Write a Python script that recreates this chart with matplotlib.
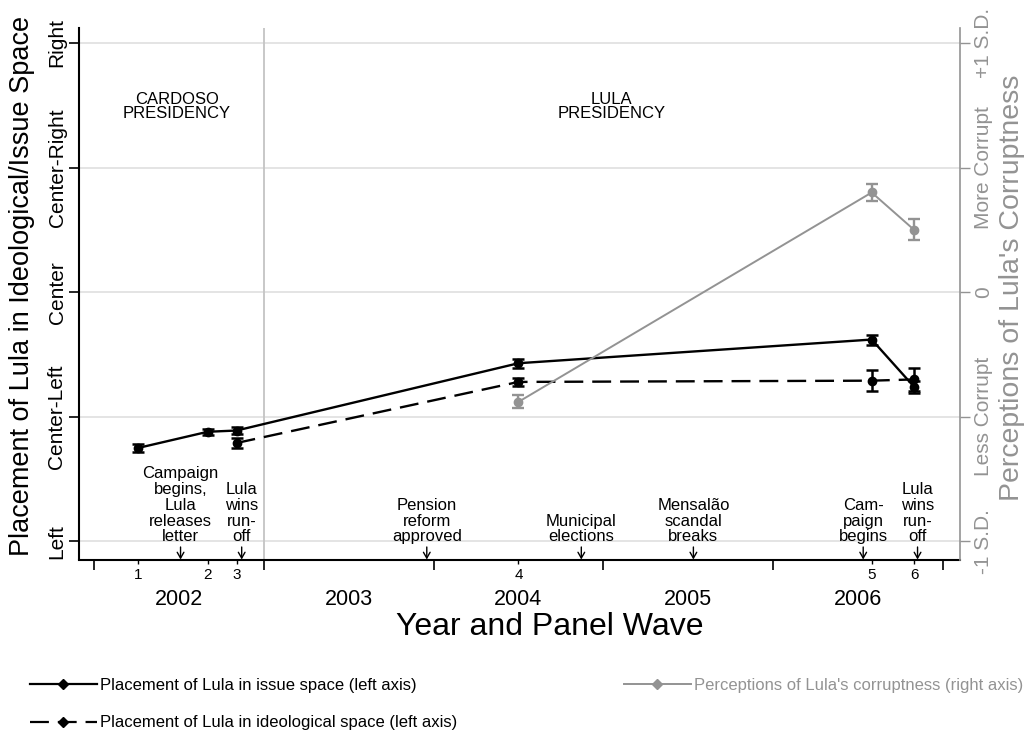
import matplotlib
matplotlib.use("Agg")
import matplotlib.pyplot as plt
from matplotlib.lines import Line2D
from matplotlib.transforms import blended_transform_factory

plt.rcParams['font.family'] = ['Liberation Sans', 'DejaVu Sans']

# panel waves, placed on a time axis in years
waveLabels = ['1', '2', '3', '4', '5', '6']
wavePos = [2002.26, 2002.67, 2002.84, 2004.50, 2006.58, 2006.83]
years = [2002, 2003, 2004, 2005, 2006]

# placement of Lula, left axis (0 = Left ... 4 = Right)
leftLabels = ['Left', 'Center-Left', 'Center', 'Center-Right', 'Right']
issue = [0.75, 0.88, 0.89, 1.43, 1.62, 1.24]
issueErr = [0.03, 0.025, 0.03, 0.035, 0.04, 0.045]
ideoPos = wavePos[2:]
ideo = [0.79, 1.28, 1.29, 1.30]
ideoErr = [0.04, 0.035, 0.085, 0.09]

# perceived corruptness, right axis (standard deviations)
rightTicks = [-1, -0.5, 0, 0.5, 1]
rightLabels = ['-1 S.D.', 'Less Corrupt', '0', 'More Corrupt', '+1 S.D.']
corrPos = wavePos[3:]
corr = [-0.44, 0.40, 0.25]
corrErr = [0.026, 0.036, 0.042]

# events marked by arrows on the time axis
eventPos = [2002.51, 2002.87, 2003.96, 2004.87, 2005.53, 2006.53, 2006.85]
eventText = ['Campaign\nbegins,\nLula\nreleases\nletter',
             'Lula\nwins\nrun-\noff',
             'Pension\nreform\napproved',
             'Municipal\nelections',
             'Mensalão\nscandal\nbreaks',
             'Cam-\npaign\nbegins',
             'Lula\nwins\nrun-\noff']

GRAY = '#939393'

fig = plt.figure(figsize=(10.27, 7.33), dpi=100)
ax = fig.add_axes([79 / 1027, 1 - 559.5 / 733, 881 / 1027, 531.5 / 733])
ax.set_xlim(2001.912, 2007.10)
ylo, yhi = -0.145, 4.12
ax.set_ylim(ylo, yhi)

ax2 = ax.twinx()
ax2.set_ylim((ylo - 2) / 2, (yhi - 2) / 2)

# grid and the start of Lula's term
ax.set_yticks(range(len(leftLabels)))
ax.set_yticklabels(leftLabels)
ax.grid(axis='y', color='#e2e2e2', lw=1.3)
ax.set_axisbelow(True)
ax.axvline(2003.0, color='#c4c4c4', lw=1.3, zorder=1)

# series
ax.errorbar(wavePos, issue, yerr=issueErr, fmt='-o', color='black', lw=1.7,
            ms=6, capsize=4.3, capthick=1.8, elinewidth=1.8, zorder=4)
ax.errorbar(ideoPos, ideo, yerr=ideoErr, fmt='o', color='black',
            ms=6, capsize=4.3, capthick=1.8, elinewidth=1.8, zorder=4)
ax.plot(ideoPos, ideo, '--', color='black', lw=1.7, dashes=(8, 3.8), zorder=4)
ax2.errorbar(corrPos, corr, yerr=corrErr, fmt='-o', color=GRAY, lw=1.4,
             ms=6, capsize=4.3, capthick=1.7, elinewidth=1.7, zorder=3)

# spines and ticks
for s in ['top', 'right']:
    ax.spines[s].set_visible(False)
for s in ['top', 'left', 'bottom']:
    ax2.spines[s].set_visible(False)
ax.spines['left'].set_linewidth(1.5)
ax.spines['bottom'].set_linewidth(1.5)
ax2.spines['right'].set_color(GRAY)
ax2.spines['right'].set_linewidth(1.2)

ax.tick_params(axis='y', length=7, width=1.2, labelsize=15, pad=2)
for lab in ax.get_yticklabels():
    lab.set_rotation(90)
    lab.set_va('center')

ax2.set_yticks(rightTicks)
ax2.set_yticklabels(rightLabels)
ax2.tick_params(axis='y', length=7, width=1.0, colors=GRAY, labelsize=15,
                pad=3)
for lab in ax2.get_yticklabels():
    lab.set_rotation(90)
    lab.set_va('center')

ax.set_xticks(years + [years[-1] + 1])
ax.set_xticklabels([])
ax.set_xticks(wavePos, minor=True)
ax.set_xticklabels(waveLabels, minor=True)
ax.tick_params(axis='x', which='major', length=7, width=1.2)
ax.tick_params(axis='x', which='minor', length=3, width=1.0, labelsize=11,
               pad=3)

trans = blended_transform_factory(ax.transData, ax.transAxes)
for y in years:
    ax.text(y + 0.5, -40 / 531.5, str(y), transform=trans, ha='center',
            va='center', fontsize=15.5)

# presidencies
ax.text(2002.49, 3.49, 'CARDOSO\nPRESIDENCY', ha='center', va='center',
        fontsize=12, linespacing=0.95)
ax.text(2005.05, 3.49, 'LULA\nPRESIDENCY', ha='center', va='center',
        fontsize=12, linespacing=0.95)

# events
for x, t in zip(eventPos, eventText):
    ax.annotate(t, xy=(x, ylo), xytext=(0, 11), textcoords='offset points',
                ha='center', va='bottom', fontsize=12, linespacing=1.06,
                arrowprops=dict(arrowstyle='->, head_length=0.35, head_width=0.2',
                                lw=1.0, color='black', shrinkA=0, shrinkB=0))

# axis titles
fig.text(550 / 1027, 1 - 627 / 733, 'Year and Panel Wave', ha='center',
         va='center', fontsize=23)
fig.text(22 / 1027, 1 - 286 / 733,
         'Placement of Lula in Ideological/Issue Space', rotation=90,
         ha='center', va='center', fontsize=19.5)
fig.text(1012 / 1027, 1 - 288 / 733, "Perceptions of Lula's Corruptness",
         rotation=90, ha='center', va='center', fontsize=20.5, color=GRAY)

# legend
hIssue = Line2D([], [], color='black', lw=1.6, marker='D', ms=5)
hIdeo = Line2D([], [], color='black', lw=1.6, marker='D', ms=5,
               dashes=(8.5, 4))
hCorr = Line2D([], [], color=GRAY, lw=1.4, marker='D', ms=5)
fig.legend([hIssue, hIdeo],
           ['Placement of Lula in issue space (left axis)',
            'Placement of Lula in ideological space (left axis)'],
           loc='upper left', bbox_to_anchor=(30 / 1027, 1 - 678 / 733),
           frameon=False, fontsize=12, handlelength=4, handletextpad=0.2,
           borderpad=0, borderaxespad=0, labelspacing=1.35)
leg = fig.legend([hCorr], ["Perceptions of Lula's corruptness (right axis)"],
                 loc='upper left', bbox_to_anchor=(624 / 1027, 1 - 678 / 733),
                 frameon=False, fontsize=12, handlelength=4,
                 handletextpad=0.2, borderpad=0, borderaxespad=0)
for t in leg.get_texts():
    t.set_color(GRAY)

fig.savefig('out.png', dpi=100)
